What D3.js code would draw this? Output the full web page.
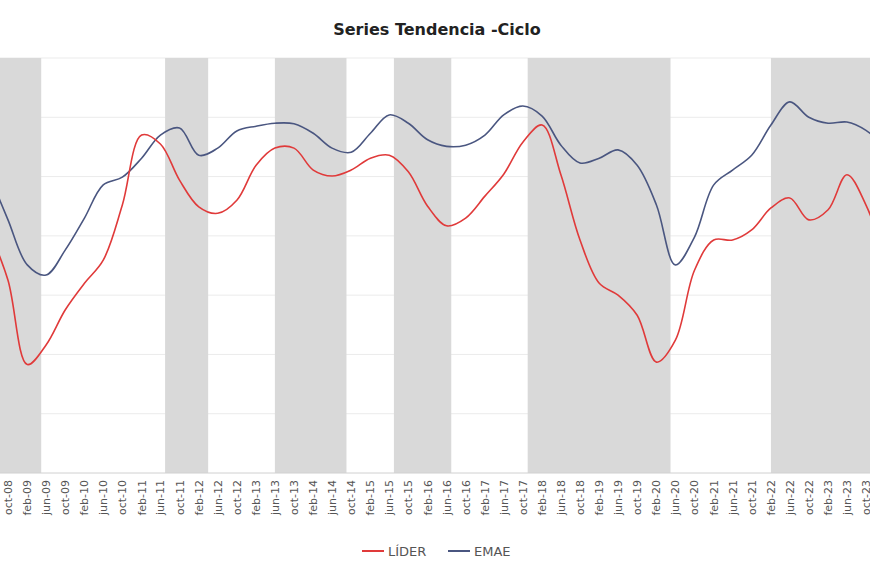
<!DOCTYPE html>
<html><head><meta charset="utf-8">
<script src="https://cdn.jsdelivr.net/npm/d3@7"></script>
<style>body{margin:0;background:#fff}text{font-family:"DejaVu Sans",Verdana,sans-serif}</style>
</head><body><svg id="c" width="870" height="580"></svg>
<script>
// series sampled every 4 months starting oct-08
var startDate = "2008-10";
var lider = [32.5,18.3,21.6,27.5,32.0,35.9,45.2,57.0,55.5,49.4,44.9,43.8,46.0,51.9,54.8,54.8,51.1,50.1,51.1,53.1,53.6,50.8,45.0,41.7,43.0,46.7,50.4,55.8,58.7,50.3,39.3,32.0,30.0,26.6,18.7,22.4,34.2,39.3,39.3,41.0,44.7,46.4,42.7,44.4,50.3,45.2];
var emae = [42.7,35.1,33.4,37.6,43.0,48.6,49.9,53.1,57.0,58.2,53.6,54.8,57.7,58.5,59.0,58.9,57.3,54.8,54.1,57.3,60.4,59.0,56.2,55.1,55.3,57.0,60.4,61.9,60.2,55.3,52.3,53.1,54.5,51.9,45.2,35.1,39.8,48.6,51.1,53.6,58.7,62.6,60.0,59.0,59.2,57.8];
var bands = [["2008-01","2009-05"],["2011-07","2012-04"],["2013-06","2014-09"],["2015-07","2016-07"],["2017-11","2020-05"],["2022-02","2024-06"]];
var meses = ["ene","feb","mar","abr","may","jun","jul","ago","sep","oct","nov","dic"];

var parse = d3.timeParse("%Y-%m");
var t0 = parse(startDate);
var dates = lider.map((d,i) => d3.timeMonth.offset(t0, 4*i));

var svg = d3.select("#c");
var x = d3.scaleTime().domain([t0, dates[dates.length-1]]).range([8, 866]);
var y = d3.scaleLinear().domain([0, 70]).range([473, 58]);

svg.append("clipPath").attr("id","clip").append("rect").attr("x",0).attr("y",0).attr("width",870).attr("height",580);
var g = svg.append("g").attr("clip-path","url(#clip)");

// grid
g.selectAll(".grid").data(d3.range(10, 71, 10)).join("line")
  .attr("x1",0).attr("x2",870).attr("y1",d=>y(d)).attr("y2",d=>y(d))
  .attr("stroke","#ebebeb");

// recession bands
g.selectAll(".band").data(bands).join("rect")
  .attr("x",d=>x(parse(d[0]))).attr("width",d=>x(parse(d[1]))-x(parse(d[0])))
  .attr("y",y(70)).attr("height",y(0)-y(70)).attr("fill","#d9d9d9");

g.append("line").attr("x1",0).attr("x2",870).attr("y1",y(0)).attr("y2",y(0)).attr("stroke","#d0d0d0");

// extend slightly beyond the edges
var ext = d3.line().x(d=>x(d[0])).y(d=>y(d[1])).curve(d3.curveCatmullRom);
function pts(arr, first, last){
  var p = arr.map((v,i)=>[dates[i], v]);
  p.unshift([d3.timeMonth.offset(t0,-4), first]);
  p.push([d3.timeMonth.offset(dates[dates.length-1],4), last]);
  return p;
}
g.append("path").attr("d", ext(pts(emae, 50.5, 55.0))).attr("fill","none").attr("stroke","#4a5680").attr("stroke-width",1.6);
g.append("path").attr("d", ext(pts(lider, 41.0, 36.0))).attr("fill","none").attr("stroke","#e03a3a").attr("stroke-width",1.6);

// x labels
g.selectAll(".lab").data(dates).join("text")
  .attr("transform",d=>"translate("+(x(d)+4)+",480) rotate(-90)")
  .attr("text-anchor","end").attr("font-size",11).attr("fill","#555")
  .text(d=>meses[d.getMonth()]+"-"+d3.timeFormat("%y")(d));

svg.append("text").attr("x",437).attr("y",35).attr("text-anchor","middle")
  .attr("font-size",16).attr("font-weight","bold").attr("fill","#222").text("Series Tendencia -Ciclo");

// legend
var leg = [["LÍDER","#e03a3a",362],["EMAE","#4a5680",448]];
leg.forEach(l=>{
  svg.append("line").attr("x1",l[2]).attr("x2",l[2]+22).attr("y1",551).attr("y2",551).attr("stroke",l[1]).attr("stroke-width",2);
  svg.append("text").attr("x",l[2]+26).attr("y",556).attr("font-size",13).attr("fill","#555").text(l[0]);
});
</script></body></html>
